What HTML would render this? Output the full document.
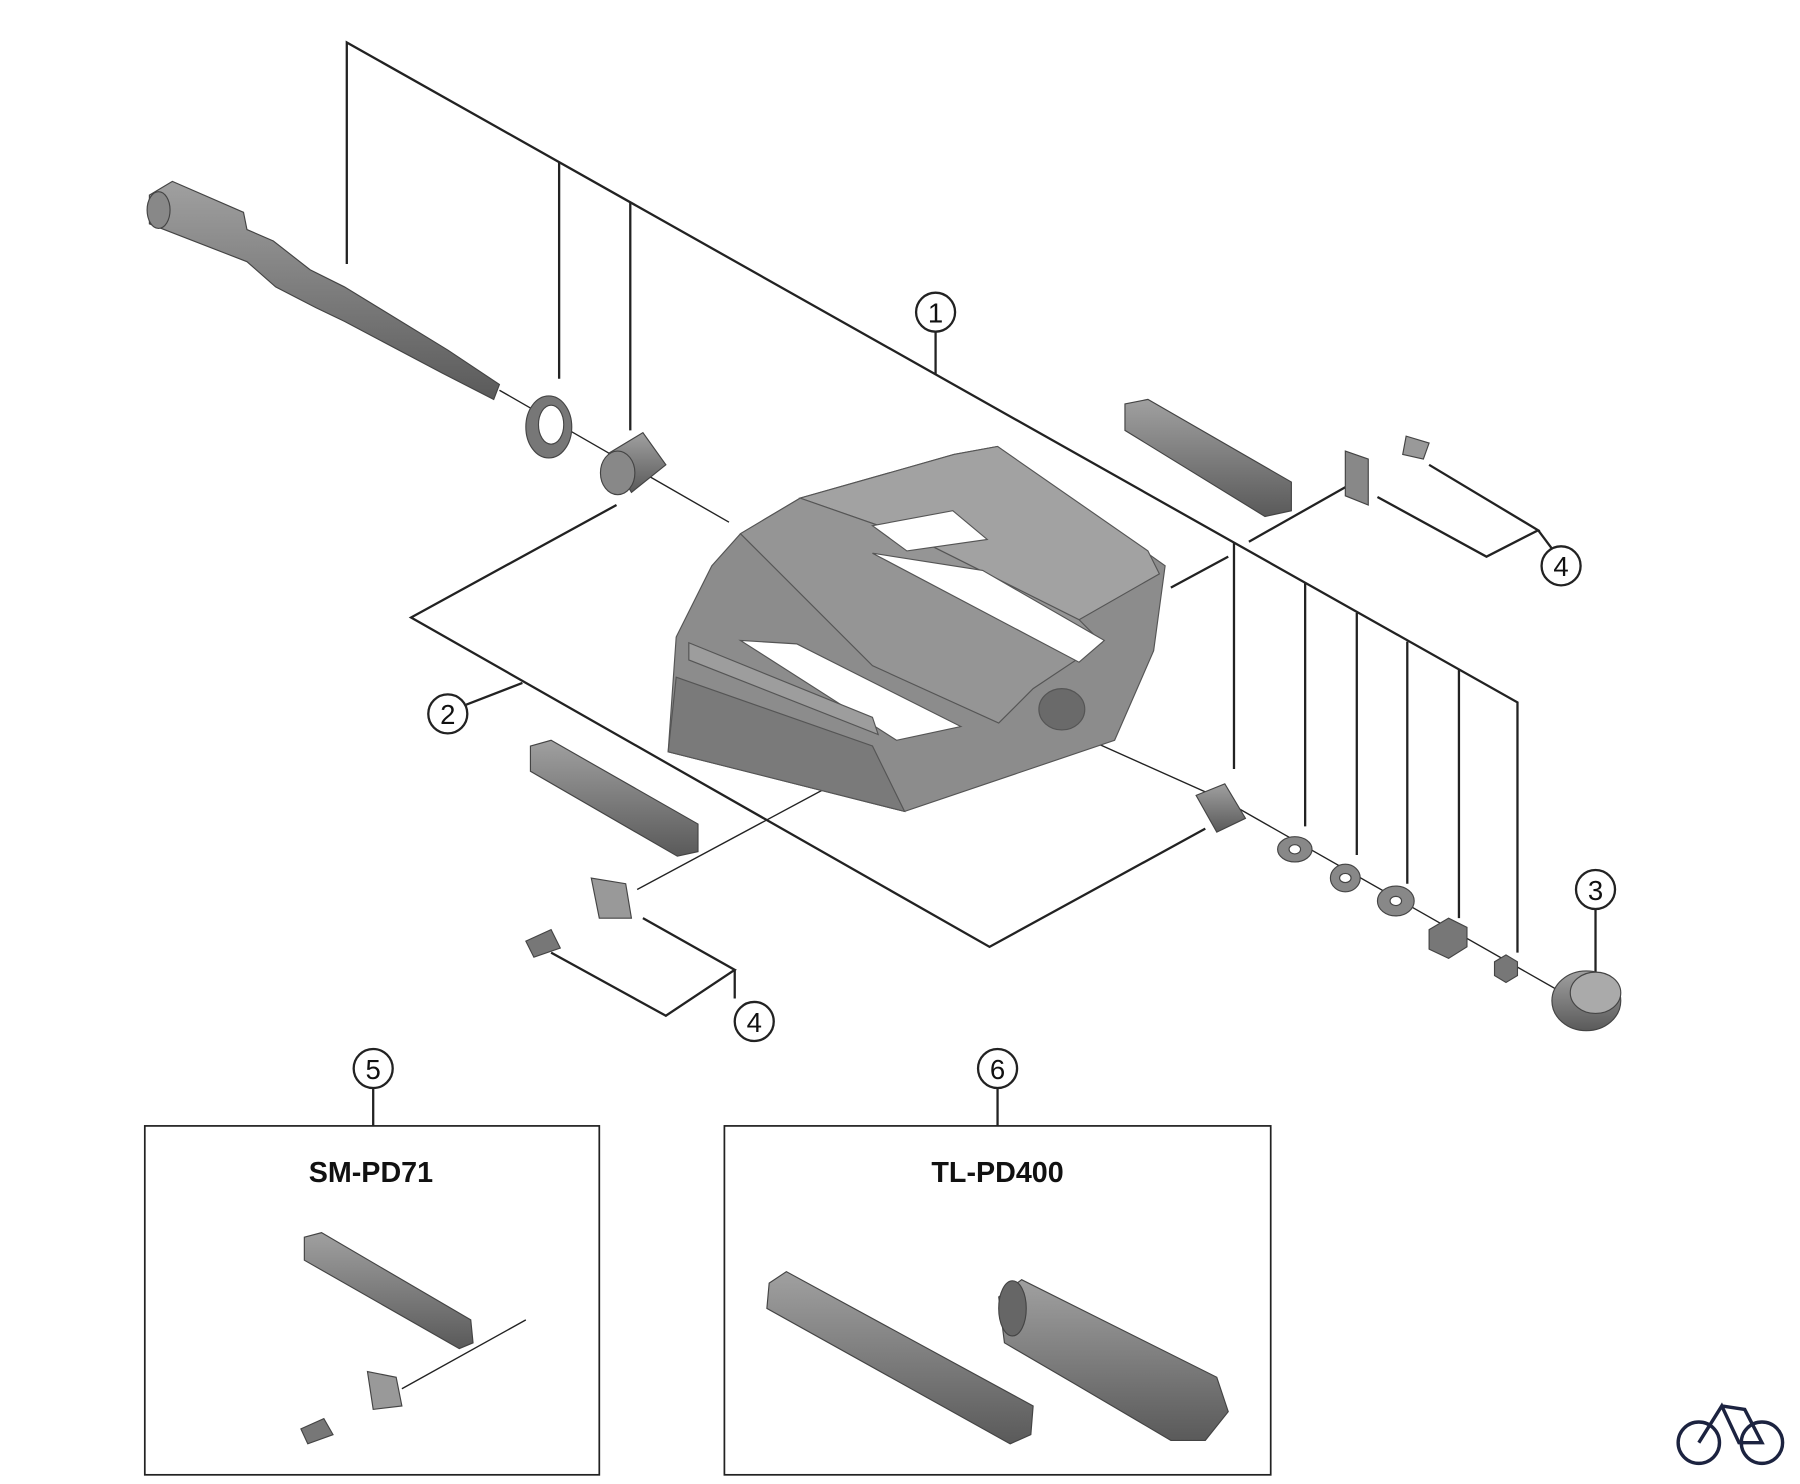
<!DOCTYPE html>
<html><head><meta charset="utf-8"><style>
html,body{margin:0;padding:0;background:#fff;}
svg{display:block}
text{font-family:"Liberation Sans",sans-serif;}
</style></head><body>
<svg width="1800" height="1484" viewBox="0 0 1568 1293" xmlns="http://www.w3.org/2000/svg">
<defs>
<linearGradient id="g" x1="0" y1="0" x2="0" y2="1"><stop offset="0" stop-color="#a0a0a0"/><stop offset="1" stop-color="#5a5a5a"/></linearGradient>
<linearGradient id="g2" x1="0" y1="0" x2="1" y2="1"><stop offset="0" stop-color="#9a9a9a"/><stop offset="1" stop-color="#777"/></linearGradient>
</defs>
<g stroke="#222" stroke-width="2" fill="none">
<polyline points="302,230 302,37 1322,612 1322,830"/>
<line x1="487" y1="141" x2="487" y2="330"/>
<line x1="549" y1="176" x2="549" y2="375"/>
<line x1="1075" y1="473" x2="1075" y2="670"/>
<line x1="1137" y1="508" x2="1137" y2="720"/>
<line x1="1182" y1="534" x2="1182" y2="745"/>
<line x1="1226" y1="559" x2="1226" y2="770"/>
<line x1="1271" y1="583" x2="1271" y2="800"/>
<line x1="815" y1="289" x2="815" y2="326"/>
<line x1="1020" y1="512" x2="1070" y2="485"/>
<line x1="1088" y1="472" x2="1180" y2="420"/>
<polyline points="537,440 358,538 862,825 1050,722"/>
<line x1="406" y1="614" x2="455" y2="595"/>
<polyline points="1245,405 1340,462 1295,485 1200,433"/>
<line x1="1340" y1="462" x2="1352" y2="478"/>
<polyline points="560,800 640,845 580,885 480,830"/>
<line x1="640" y1="870" x2="640" y2="845"/>
<line x1="1390" y1="792" x2="1390" y2="850"/>
<line x1="869" y1="948" x2="869" y2="981"/>
<line x1="325" y1="948" x2="325" y2="981"/>
<line x1="435" y1="340" x2="635" y2="455" stroke-width="1.2"/>
<line x1="905" y1="625" x2="1050" y2="690" stroke-width="1.2"/>
<line x1="1080" y1="705" x2="1370" y2="870" stroke-width="1.2"/>
<line x1="555" y1="775" x2="760" y2="665" stroke-width="1.2"/>
<line x1="350" y1="1210" x2="458" y2="1150" stroke-width="1.2"/>
</g>
<rect x="126" y="981" width="396" height="304" fill="none" stroke="#222" stroke-width="1.5"/>
<rect x="631" y="981" width="476" height="304" fill="none" stroke="#222" stroke-width="1.5"/>
<text x="323" y="1030" font-size="25" font-weight="bold" text-anchor="middle" fill="#111">SM-PD71</text>
<text x="869" y="1030" font-size="25" font-weight="bold" text-anchor="middle" fill="#111">TL-PD400</text>
<g fill="#fff" stroke="#222" stroke-width="2">
<circle cx="815" cy="272" r="17"/><circle cx="390" cy="622" r="17"/><circle cx="1390" cy="775" r="17"/>
<circle cx="1360" cy="493" r="17"/><circle cx="657" cy="890" r="17"/><circle cx="325" cy="931" r="17"/><circle cx="869" cy="931" r="17"/>
</g>
<g font-size="24" text-anchor="middle" fill="#111">
<text x="815" y="281">1</text><text x="390" y="631">2</text><text x="1390" y="784">3</text>
<text x="1360" y="502">4</text><text x="657" y="899">4</text><text x="325" y="940">5</text><text x="869" y="940">6</text>
</g>
<g fill="url(#g)" stroke="#444" stroke-width="1">
<polygon points="130,170 150,158 212,185 215,200 238,210 270,235 300,250 390,305 435,335 430,348 385,325 300,280 275,268 240,250 215,228 130,195"/>
<ellipse cx="138" cy="183" rx="10" ry="16" fill="#888"/>
<ellipse cx="478" cy="372" rx="20" ry="27" fill="#777"/>
<ellipse cx="480" cy="370" rx="11" ry="17" fill="#fff"/>
<path d="M530,395 l30,-18 20,28 -30,24z" fill="url(#g)"/>
<ellipse cx="538" cy="412" rx="15" ry="19" fill="#888"/>
</g>
<!-- pedal -->
<g stroke="#555" stroke-width="1">
<polygon points="645,465 697,434 831,396 869,389 1015,493 1005,567 971,645 788,707 582,655 589,555 620,493" fill="#8c8c8c"/>
<polygon points="697,434 831,396 869,389 1000,480 1010,500 940,540 800,470" fill="#a2a2a2"/>
<polygon points="645,465 697,434 800,470 940,540 960,560 900,600 870,630 760,580" fill="#959595"/>
<polygon points="760,482 856,497 962,558 940,577" fill="#fff"/>
<polygon points="645,558 694,561 837,633 781,645" fill="#fff"/>
<polygon points="760,458 830,445 860,470 790,480" fill="#fff"/>
<polygon points="589,590 760,650 788,707 582,655" fill="#7a7a7a"/>
<polygon points="600,560 760,625 765,640 600,575" fill="#9d9d9d"/>
<ellipse cx="925" cy="618" rx="20" ry="18" fill="#6a6a6a"/>
</g>
<g fill="url(#g)" stroke="#444" stroke-width="1">
<polygon points="980,352 1000,348 1125,420 1125,445 1102,450 980,375"/>
<polygon points="462,650 480,645 608,718 608,742 590,746 462,672"/>
<polygon points="1172,393 1192,400 1192,440 1172,432" fill="#888"/>
<polygon points="1225,380 1245,386 1240,400 1222,396" fill="#999"/>
<polygon points="515,765 545,770 550,800 522,800" fill="#999"/>
<polygon points="458,820 480,810 488,826 465,834" fill="#777"/>
<path d="M1042,693 l25,-10 18,30 -25,12z" fill="url(#g)"/>
<ellipse cx="1128" cy="740" rx="15" ry="11" fill="#888"/><ellipse cx="1128" cy="740" rx="5" ry="4" fill="#fff"/>
<ellipse cx="1172" cy="765" rx="13" ry="12" fill="#888"/><ellipse cx="1172" cy="765" rx="5" ry="4" fill="#fff"/>
<ellipse cx="1216" cy="785" rx="16" ry="13" fill="#888"/><ellipse cx="1216" cy="785" rx="5" ry="4" fill="#fff"/>
<polygon points="1245,810 1262,800 1278,808 1278,825 1262,835 1245,827" fill="#777"/>
<polygon points="1302,838 1312,832 1322,838 1322,850 1312,856 1302,850" fill="#777"/>
<ellipse cx="1382" cy="872" rx="30" ry="26" fill="url(#g)"/>
<ellipse cx="1390" cy="865" rx="22" ry="18" fill="#aaa"/>
<polygon points="265,1078 280,1074 410,1150 412,1170 400,1175 265,1098"/>
<polygon points="320,1195 345,1200 350,1225 325,1228" fill="#999"/>
<polygon points="262,1245 282,1236 290,1250 268,1258" fill="#777"/>
<polygon points="670,1118 685,1108 900,1225 898,1250 880,1258 668,1140"/>
<polygon points="870,1130 890,1115 960,1150 1060,1200 1070,1230 1050,1255 1020,1255 935,1205 875,1170"/>
<ellipse cx="882" cy="1140" rx="12" ry="24" fill="#666"/>
</g>
<g fill="none" stroke="#1c2340" stroke-width="3">
<circle cx="1480" cy="1257" r="18"/><circle cx="1535" cy="1257" r="18"/>
<polyline points="1480,1257 1500,1225 1515,1257 1535,1257 1520,1228 1500,1225"/>
</g>
</svg>
</body></html>
